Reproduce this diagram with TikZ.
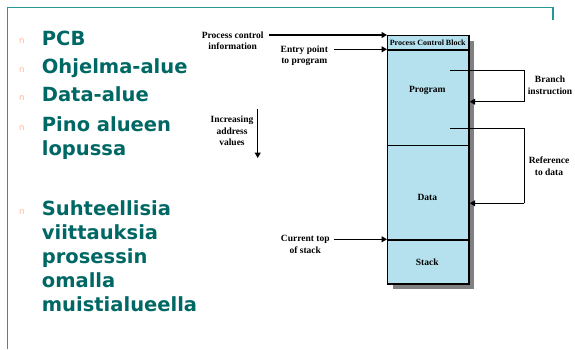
\documentclass[tikz,border=0pt]{standalone}
\usepackage{fontspec}
\setmainfont{Liberation Serif}
\newfontfamily\slidefont{DejaVu Sans}
\usetikzlibrary{arrows.meta}
\definecolor{tealtext}{RGB}{0,104,100}
\definecolor{framecol}{RGB}{40,150,150}
\definecolor{bulcol}{RGB}{255,180,150}
\definecolor{boxblue}{RGB}{180,225,237}
\definecolor{shadowcol}{RGB}{128,128,128}
\tikzset{
  item/.style={anchor=base west, inner sep=0pt, text=tealtext,
    font=\slidefont\bfseries\fontsize{19.5}{24}\selectfont},
  bullet/.style={anchor=base west, inner sep=0pt, text=bulcol,
    font=\slidefont\fontsize{8.5}{9}\selectfont},
  sect/.style={draw=black, line width=1.4pt, fill=boxblue, inner sep=0pt,
    minimum width=81.3pt, anchor=north west},
  lbl/.style={font=\bfseries\fontsize{9.5}{11.3}\selectfont, align=center, inner sep=1pt},
  boxlbl/.style={font=\bfseries\fontsize{9.5}{11}\selectfont, inner sep=0pt},
  arr/.style={line width=1.2pt, -{Triangle[length=5.5pt,width=6pt]}},
  conn/.style={line width=1.2pt}
}
\begin{document}
\begin{tikzpicture}[x=1pt,y=-1pt]
\useasboundingbox (0,0) rectangle (575,349);
\fill[white] (0,0) rectangle (575,349);
% frame
\draw[framecol, line width=1.3pt] (7.5,349) -- (7.5,7.5) -- (553,7.5) -- (553,20);

% bullets and items
\node[bullet] (b1) at (19,43.5) {n};
\node[item] (t1) at (41.7,45) {PCB};
\node[bullet] (b2) at (19,72) {n};
\node[item] (t2) at (41.7,73.3) {Ohjelma-alue};
\node[bullet] (b3) at (19,100.3) {n};
\node[item] (t3) at (41.7,101.7) {Data-alue};
\node[bullet] (b4) at (19,130.3) {n};
\node[item] (t4) at (41.7,131.7) {Pino alueen};
\node[item] (t4b) at (41.7,155.3) {lopussa};
\node[bullet] (b5) at (19,214.3) {n};
\node[item] (t5) at (41.7,215.7) {Suhteellisia};
\node[item] (t5b) at (41.7,239.7) {viittauksia};
\node[item] (t5c) at (41.7,263.5) {prosessin};
\node[item] (t5d) at (41.7,287.7) {omalla};
\node[item] (t5e) at (41.7,311.7) {muistialueella};

% memory box
\fill[shadowcol] (392.5,40.5) rectangle (473.8,288.8);
\node[sect, minimum height=14.3pt] (pcb) at (387,35) {};
\node[sect, minimum height=95.2pt] (prog) at (387,49.3) {};
\node[sect, minimum height=94.8pt] (data) at (387,144.5) {};
\node[sect, minimum height=44pt] (stack) at (387,239.3) {};
\node[boxlbl, font=\bfseries\fontsize{8}{9}\selectfont] (pcbt) at (427.7,42.3) {Process Control Block};
\node[boxlbl] (progt) at (427.3,90.7) {Program};
\node[boxlbl] (datat) at (427.3,197.7) {Data};
\node[boxlbl] (stackt) at (427.3,262.7) {Stack};

% left labels and arrows
\node[lbl] (pci) at (232.7,40.6) {Process control\\information};
\draw[arr] (pci.east |- pcb.north west) ++(4,0) coordinate (pcis) -- (pcb.north west);
\node[lbl] (entry) at (304.3,55.9) {Entry point\\to program};
\coordinate (entrys) at (334,49.3);
\draw[arr] (entrys) -- (prog.north west);
\node[lbl] (inc) at (232,130.8) {Increasing\\address\\values};
\coordinate (inc1) at (257.7,109);
\coordinate (inc2) at (257.7,158);
\draw[arr] (inc1) -- (inc2);
\node[lbl] (cur) at (305.3,244.5) {Current top\\of stack};
\coordinate (curs) at (334,239.3);
\draw[arr] (curs) -- (stack.north west);

% branch instruction
\coordinate (br1) at (450,70.7);
\coordinate (br2) at (524.3,70.7);
\coordinate (br3) at (524.3,101.7);
\draw[conn] (br1) -- (br2) -- (br3);
\draw[arr] (br3) -- (prog.east |- br3);
\node[lbl] (brt) at (550,85.3) {Branch\\instruction};

% reference to data
\coordinate (rf1) at (450,128.7);
\coordinate (rf2) at (524.3,128.7);
\coordinate (rf3) at (524.3,203.3);
\draw[conn] (rf1) -- (rf2) -- (rf3);
\draw[arr] (rf3) -- (data.east |- rf3);
\node[lbl] (rft) at (549,166.2) {Reference\\to data};
\end{tikzpicture}
\end{document}
